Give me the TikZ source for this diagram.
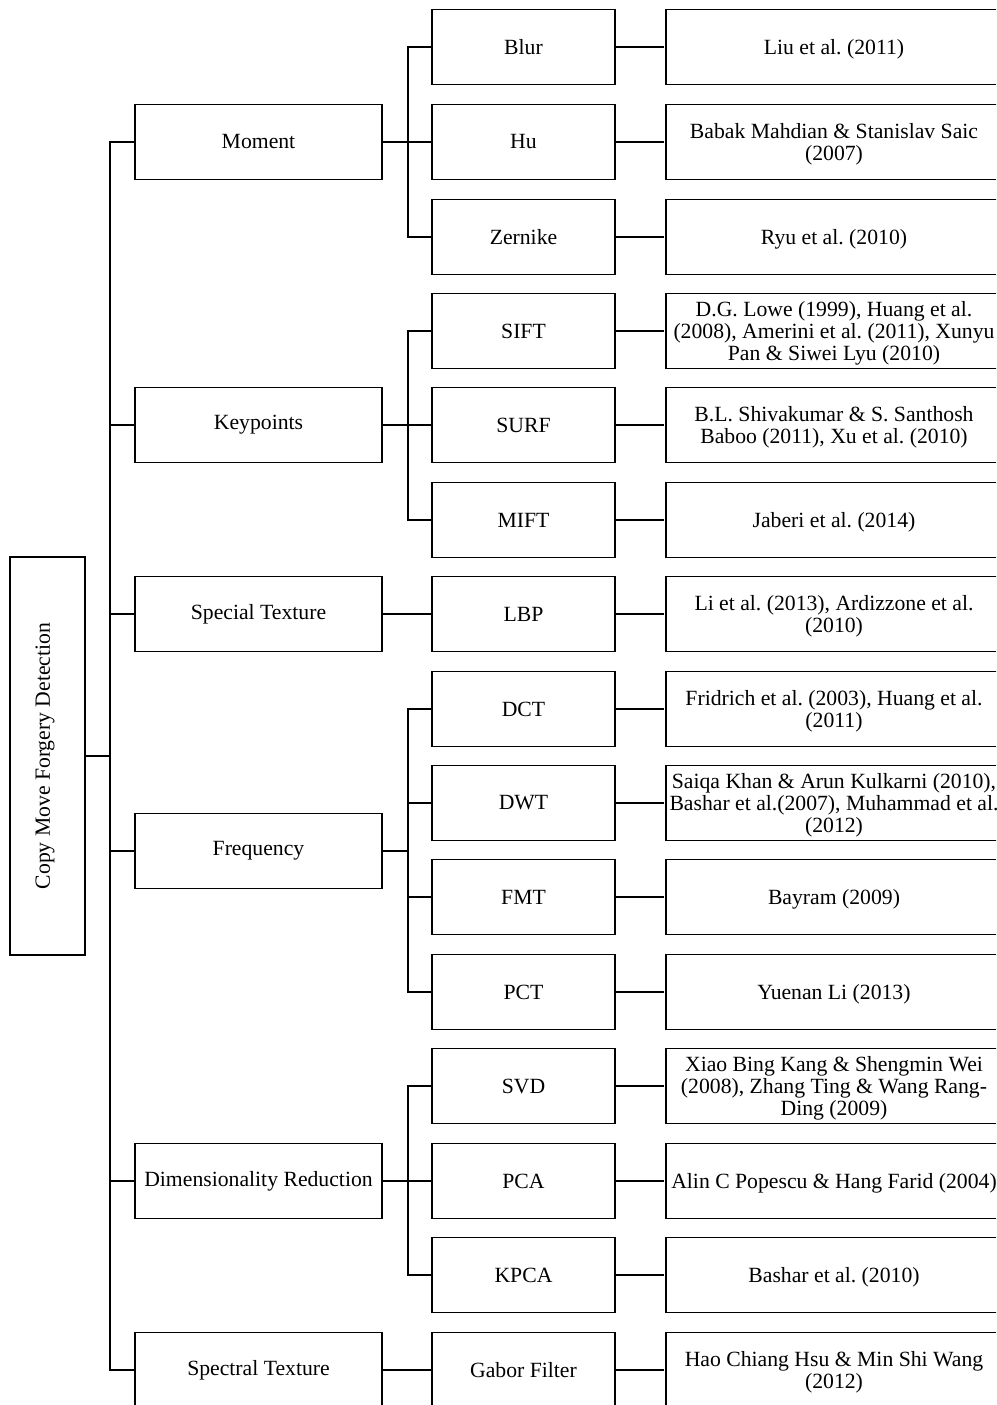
\documentclass[tikz,border=0pt]{standalone}
\usepackage{fontspec}
\setmainfont{Liberation Serif}
\frenchspacing
\tikzset{
  box/.style={draw, line width=1.6pt, rectangle, inner sep=0pt, align=center,
    font=\fontsize{21.7}{22}\selectfont\frenchspacing},
  lone/.style={box, minimum width=247pt, minimum height=75pt},
  ltwo/.style={box, minimum width=183pt, minimum height=75pt},
  lthree/.style={box, draw=none, minimum width=338pt, minimum height=75pt, yshift=-2pt},
  conn/.style={line width=1.6pt},
  rootconn/.style={line width=2.4pt},
}
\begin{document}
\begin{tikzpicture}[x=1pt,y=-1pt]
\useasboundingbox (0,0) rectangle (996,1405);
\clip (0,0) rectangle (996,1405);
% root
\node[box, minimum width=75pt, minimum height=398pt] (root) at (47.5,756) {};
\node[font=\fontsize{21.7}{22}\selectfont, rotate=90] (roottext) at (45,756) {Copy Move Forgery Detection};
% level 1
\node[lone] (moment) at (258.5,142) {Moment};
\node[lone] (keyp) at (258.5,425) {Keypoints};
\node[lone] (spec) at (258.5,614) {Special Texture};
\node[lone] (freq) at (258.5,851) {Frequency};
\node[lone] (dimr) at (258.5,1181) {Dimensionality Reduction};
\node[lone] (spect) at (258.5,1370) {Spectral Texture};
% level 2
\node[ltwo] (blur) at (523.5,47) {Blur};
\node[ltwo] (hu) at (523.5,142) {Hu};
\node[ltwo] (zern) at (523.5,237) {Zernike};
\node[ltwo] (sift) at (523.5,331) {SIFT};
\node[ltwo] (surf) at (523.5,425) {SURF};
\node[ltwo] (mift) at (523.5,520) {MIFT};
\node[ltwo] (lbp) at (523.5,614) {LBP};
\node[ltwo] (dct) at (523.5,709) {DCT};
\node[ltwo] (dwt) at (523.5,803) {DWT};
\node[ltwo] (fmt) at (523.5,897) {FMT};
\node[ltwo] (pct) at (523.5,992) {PCT};
\node[ltwo] (svd) at (523.5,1086) {SVD};
\node[ltwo] (pca) at (523.5,1181) {PCA};
\node[ltwo] (kpca) at (523.5,1275) {KPCA};
\node[ltwo] (gabor) at (523.5,1370) {Gabor Filter};
% level 3
\node[lthree] (rblur) at (834,47) {Liu et al. (2011)};
\node[lthree] (rhu) at (834,142) {Babak Mahdian \& Stanislav Saic\\(2007)};
\node[lthree] (rzern) at (834,237) {Ryu et al. (2010)};
\node[lthree] (rsift) at (834,331) {D.G. Lowe (1999), Huang et al.\\(2008), Amerini et al. (2011), Xunyu\\Pan \& Siwei Lyu (2010)};
\node[lthree] (rsurf) at (834,425) {B.L. Shivakumar \& S. Santhosh\\Baboo (2011), Xu et al. (2010)};
\node[lthree] (rmift) at (834,520) {Jaberi et al. (2014)};
\node[lthree] (rlbp) at (834,614) {Li et al. (2013), Ardizzone et al.\\(2010)};
\node[lthree] (rdct) at (834,709) {Fridrich et al. (2003), Huang et al.\\(2011)};
\node[lthree] (rdwt) at (834,803) {Saiqa Khan \& Arun Kulkarni (2010),\\Bashar et al.(2007), Muhammad et al.\\(2012)};
\node[lthree] (rfmt) at (834,897) {Bayram (2009)};
\node[lthree] (rpct) at (834,992) {Yuenan Li (2013)};
\node[lthree] (rsvd) at (834,1086) {Xiao Bing Kang \& Shengmin Wei\\(2008), Zhang Ting \& Wang Rang-\\Ding (2009)};
\node[lthree] (rpca) at (834,1181) {Alin C Popescu \& Hang Farid (2004)};
\node[lthree] (rkpca) at (834,1275) {Bashar et al. (2010)};
\node[lthree] (rgabor) at (834,1370) {Hao Chiang Hsu \& Min Shi Wang\\(2012)};
% root to level 1
\coordinate (trunk) at (110,756);
\draw[rootconn] (root.east) -- (trunk);
\foreach \n in {moment,keyp,spec,freq,dimr,spect}
  \draw[conn] (trunk) |- (\n.west);
% level 1 to level 2
\foreach \n in {blur,hu,zern}
  \draw[conn] (moment.east) -- ++(25,0) |- (\n.west);
\foreach \n in {sift,surf,mift}
  \draw[conn] (keyp.east) -- ++(25,0) |- (\n.west);
\draw[conn] (spec.east) -- (lbp.west);
\foreach \n in {dct,dwt,fmt,pct}
  \draw[conn] (freq.east) -- ++(25,0) |- (\n.west);
\foreach \n in {svd,pca,kpca}
  \draw[conn] (dimr.east) -- ++(25,0) |- (\n.west);
\draw[conn] (spect.east) -- (gabor.west);
% level 2 to level 3, with the open-ended outlines of the level-3 boxes (cut by the right edge)
\foreach \a/\b in {blur/rblur,hu/rhu,zern/rzern,sift/rsift,surf/rsurf,mift/rmift,lbp/rlbp,dct/rdct,dwt/rdwt,fmt/rfmt,pct/rpct,svd/rsvd,pca/rpca,kpca/rkpca,gabor/rgabor}{
  \draw[conn] (\a.east) -- (\a.east -| \b.west);
  \draw[conn] ([xshift=420pt,yshift=37.5pt]\a.east) -- ([xshift=50pt,yshift=37.5pt]\a.east)
    -- ([xshift=50pt,yshift=-37.5pt]\a.east) -- ([xshift=420pt,yshift=-37.5pt]\a.east);
}
\end{tikzpicture}
\end{document}
